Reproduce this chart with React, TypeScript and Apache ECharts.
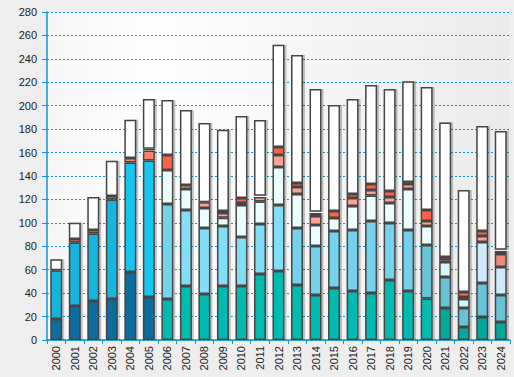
import React, { useEffect, useRef } from "react";
import * as echarts from "echarts";

const years = ["2000","2001","2002","2003","2004","2005","2006","2007","2008","2009","2010","2011","2012","2013","2014","2015","2016","2017","2018","2019","2020","2021","2022","2023","2024"];
const baseVals = [18,29,33.3,35,58,36.7,35,46.1,39.2,46.1,46.1,56.3,58.9,46.9,38.4,44.4,41.8,40.1,51.2,41.8,35.5,27.3,11.1,19.6,15.4];
const midVals = [41.5,54.3,57.7,85,93.6,116.6,81.1,64.8,56.4,51.2,41.8,42.7,56.3,48.7,41.8,48.6,52.1,61.5,48.7,52.1,45.6,26.5,16.2,29,23];
const paleVals = [0,0,0,0,0,0,29,18,17,7.1,27.3,19.3,32.4,29,17.9,11.1,20.5,21.8,17,35,16.2,12.8,7.7,35,23.9];
const salmonVals = [0,2.9,3,3,3.7,8.5,0,3.4,4.9,4,1.7,3.7,10.3,6,7.7,0,6.8,4.6,5.1,4.2,4.3,1.4,1.7,5.2,11.1];
const redVals = [0,0,0,0,0,0,12.8,0,0,1.7,4.3,0,6.8,3.4,2.6,6,3.4,5.1,5.2,0,9.3,2.8,4.3,4.2,2.6];
const thinVals = [0,0,0,0,0,1.5,0,0,0,0,0,1.2,0,0,1.1,0,0,0,0,1.7,0,0,0,0,1.1];
const topVals = [9.5,13.8,28,30,32.7,42.4,46.9,64,67.7,69.4,70,64.6,87.3,109.2,104.7,90.5,81.1,84.5,87,86.1,105,114.9,87,89.6,101.3];
const yTicks = { min: 0, max: 280, interval: 20 };

const baseColor = (i: number) => (i < 6 ? "#0e6d9e" : i < 21 ? "#00bbb0" : "#00a99c");
const midColor = (i: number) =>
  i < 4 ? "#19b5de" : i < 6 ? "#18c6ef" : i === 6 ? "#72d4eb" : i < 13 ? "#80def6" : i < 20 ? "#74d2ec" : "#68c2d8";
const paleColor = (i: number) => (i < 21 ? "#ebfdfd" : i < 23 ? "#d9f3fb" : "#cfe9f8");
const salmonColor = (i: number) => (i < 6 ? "#ff8266" : i === 24 ? "#f08a7a" : "#ffa291");
const redColor = () => "#ff6347";
const thinColor = () => "#e0503a";
const topColor = () => "#ffffff";

const AXIS_BLUE = "#0a96d8";

export default function App() {
  const ref = useRef<HTMLDivElement>(null);
  useEffect(() => {
    if (!ref.current) return;
    const chart = echarts.init(ref.current, undefined, { renderer: "svg" });
    const mk = (name: string, vals: number[], colorFn: (i: number) => string) => ({
      name,
      type: "bar",
      stack: "total",
      barWidth: 12,
      data: vals.map((v, i) => ({
        value: v > 0 ? v : "-",
        itemStyle: { color: colorFn(i) },
      })),
      itemStyle: {
        borderColor: "#444",
        borderWidth: 1.5,
        shadowColor: "rgba(0,0,0,0.22)",
        shadowOffsetX: 2,
        shadowOffsetY: 0,
        shadowBlur: 0,
      },
      emphasis: { disabled: true },
    });
    chart.setOption({
      animation: false,
      backgroundColor: "#eeeeee",
      textStyle: { fontFamily: "Liberation Sans, Arial, sans-serif" },
      grid: {
        left: 47,
        right: 4,
        top: 12,
        bottom: 37,
        show: true,
        borderWidth: 0,
        backgroundColor: {
          type: "linear",
          x: 0, y: 0, x2: 1, y2: 0,
          colorStops: [
            { offset: 0, color: "#f6f6f6" },
            { offset: 0.22, color: "#fefefe" },
            { offset: 1, color: "#ebebeb" },
          ],
        },
      },
      xAxis: {
        type: "category",
        data: years,
        axisLine: { lineStyle: { color: AXIS_BLUE, width: 1.5 } },
        axisTick: { show: true, length: 4, lineStyle: { color: AXIS_BLUE } },
        axisLabel: { rotate: 90, color: "#222", fontSize: 11, margin: 6 },
      },
      yAxis: {
        type: "value",
        min: yTicks.min,
        max: yTicks.max,
        interval: yTicks.interval,
        axisLine: { show: true, lineStyle: { color: AXIS_BLUE, width: 1.5 } },
        axisTick: { show: true, length: 5, lineStyle: { color: AXIS_BLUE } },
        axisLabel: { color: "#222", fontSize: 11, margin: 10 },
        splitLine: { lineStyle: { color: AXIS_BLUE, type: [2, 2], width: 1 } },
      },
      series: [
        mk("base", baseVals, baseColor),
        mk("mid", midVals, midColor),
        mk("pale", paleVals, paleColor),
        mk("salmon", salmonVals, salmonColor),
        mk("red", redVals, redColor),
        mk("thin", thinVals, thinColor),
        mk("top", topVals, topColor),
      ],
    });
    return () => chart.dispose();
  }, []);
  return <div ref={ref} style={{ width: 514, height: 377, position: "absolute", left: 0, top: 0 }} />;
}
